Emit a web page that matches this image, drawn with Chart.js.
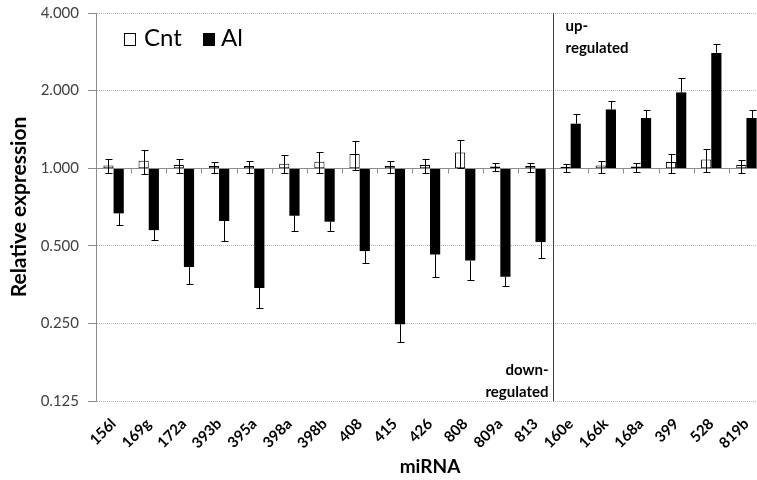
<!DOCTYPE html>
<html><head><meta charset="utf-8">
<script src="https://cdn.jsdelivr.net/npm/chart.js@4"></script>
<style>html,body{margin:0;padding:0;overflow:hidden;background:#fff}
#wrap{width:772px;height:480px;overflow:hidden}</style></head>
<body><div id="wrap"><canvas id="c" width="772" height="480"></canvas></div>
<script>
const categories = ['156l','169g','172a','393b','395a','398a','398b','408','415','426','808','809a','813','160e','166k','168a','399','528','819b'];
const cntValues  = [1.025,1.07,1.03,1.02,1.02,1.04,1.06,1.135,1.02,1.03,1.15,1.015,1.02,1.013,1.025,1.015,1.056,1.08,1.03];
const cntErrHigh = [1.09,1.18,1.09,1.06,1.07,1.13,1.155,1.275,1.07,1.09,1.286,1.045,1.05,1.035,1.07,1.05,1.14,1.19,1.08];
const cntErrLow  = [0.96,0.95,0.96,0.96,0.96,0.96,0.96,0.98,0.96,0.96,1.0,0.975,0.97,0.97,0.96,0.97,0.96,0.97,0.96];
const alValues   = [0.668,0.575,0.414,0.624,0.343,0.654,0.620,0.477,0.248,0.463,0.438,0.379,0.517,1.488,1.69,1.566,1.968,2.80,1.566];
const alErrEnd   = [0.60,0.527,0.357,0.523,0.288,0.572,0.572,0.429,0.212,0.380,0.369,0.348,0.449,1.617,1.83,1.686,2.245,3.02,1.686];
const yTicks = [0.125,0.25,0.5,1,2,4];
const seriesNames = ['Cnt','Al'];
const upLabel = ['up-','regulated'];
const downLabel = ['down-','regulated'];
const dividerAfter = 12;

const FONT = 'Lato, "Open Sans", sans-serif';

const overlay = {
  id:'overlay',
  afterDatasetsDraw(chart){
    const ctx = chart.ctx, x = chart.scales.x, y = chart.scales.y, ca = chart.chartArea;
    ctx.save();
    const n = categories.length;
    const step = x.getPixelForValue(1) - x.getPixelForValue(0);
    // baseline at 1.0 with ticks
    const y1 = Math.round(y.getPixelForValue(1)) + 0.5;
    ctx.strokeStyle = '#8c8c8c'; ctx.lineWidth = 1;
    ctx.beginPath(); ctx.moveTo(ca.left, y1); ctx.lineTo(ca.right, y1); ctx.stroke();
    for (let i = 0; i <= n; i++) {
      const px = Math.round(x.getPixelForValue(0) - step / 2 + i * step) + 0.5;
      ctx.beginPath(); ctx.moveTo(px, y1); ctx.lineTo(px, y1 + 5); ctx.stroke();
    }
    // error bars
    ctx.strokeStyle = '#000'; ctx.lineWidth = 1;
    const m0 = chart.getDatasetMeta(0), m1 = chart.getDatasetMeta(1);
    const cap = 3;
    for (let i = 0; i < n; i++) {
      const cx = Math.round(m0.data[i].x) + 0.5;
      const hi = Math.round(y.getPixelForValue(cntErrHigh[i])) + 0.5;
      const lo = Math.round(y.getPixelForValue(cntErrLow[i])) + 0.5;
      ctx.beginPath();
      ctx.moveTo(cx, hi); ctx.lineTo(cx, lo);
      ctx.moveTo(cx - cap, hi); ctx.lineTo(cx + cap + 1, hi);
      ctx.moveTo(cx - cap, lo); ctx.lineTo(cx + cap + 1, lo);
      ctx.stroke();
      const ax = Math.round(m1.data[i].x) + 0.5;
      const a0 = y.getPixelForValue(alValues[i]);
      const ae = Math.round(y.getPixelForValue(alErrEnd[i])) + 0.5;
      ctx.beginPath();
      ctx.moveTo(ax, a0); ctx.lineTo(ax, ae);
      ctx.moveTo(ax - cap, ae); ctx.lineTo(ax + cap + 1, ae);
      ctx.stroke();
    }
    // divider
    const dx = Math.round((x.getPixelForValue(dividerAfter) + x.getPixelForValue(dividerAfter + 1)) / 2) + 0.5;
    ctx.strokeStyle = '#404040';
    ctx.beginPath(); ctx.moveTo(dx, ca.top); ctx.lineTo(dx, ca.bottom); ctx.stroke();
    // annotations
    ctx.fillStyle = '#000';
    ctx.font = 'bold 15px ' + FONT;
    ctx.textBaseline = 'alphabetic';
    ctx.textAlign = 'left';
    ctx.fillText(upLabel[0], dx + 12, 31);
    ctx.fillText(upLabel[1], dx + 12, 53);
    ctx.textAlign = 'right';
    ctx.fillText(downLabel[0], dx - 5, 375);
    ctx.fillText(downLabel[1], dx - 5, 397);
    // legend
    ctx.textAlign = 'left';
    ctx.font = '24px ' + FONT;
    ctx.fillStyle = '#fff'; ctx.strokeStyle = '#000';
    ctx.fillRect(124.5, 33.5, 11, 12); ctx.strokeRect(124.5, 33.5, 11, 12);
    ctx.fillStyle = '#000';
    ctx.fillText(seriesNames[0], 144, 46);
    ctx.fillRect(203, 33, 12, 13);
    ctx.fillText(seriesNames[1], 221, 46);
    ctx.restore();
  }
};

new Chart(document.getElementById('c'), {
  type: 'bar',
  data: {
    labels: categories,
    datasets: [
      { label: seriesNames[0], data: cntValues.map(v => [1, v]), backgroundColor: '#fff', borderColor: '#000', borderWidth: 1, borderSkipped: false },
      { label: seriesNames[1], data: alValues.map(v => [1, v]), backgroundColor: '#000', borderColor: '#000', borderWidth: 0 }
    ]
  },
  options: {
    responsive: false, animation: false, devicePixelRatio: 1,
    layout: { padding: { top: 13, right: 8, left: 0, bottom: 0 } },
    datasets: { bar: { categoryPercentage: 0.58, barPercentage: 1.0 } },
    plugins: { legend: { display: false }, tooltip: { enabled: false } },
    scales: {
      x: {
        type: 'category',
        grid: { display: false },
        border: { display: false },
        ticks: { color: '#000', font: { family: FONT, size: 15, weight: 'bold' }, minRotation: 45, maxRotation: 45, padding: 6, autoSkip: false },
        title: { display: true, text: 'miRNA', color: '#000', font: { family: FONT, size: 19, weight: 'bold' }, padding: { top: 0, bottom: 2 } },
        afterFit(s) { s.height = 79; s.paddingLeft = 0; s.paddingRight = 0; }
      },
      y: {
        type: 'logarithmic', min: 0.125, max: 4,
        afterBuildTicks(s) { s.ticks = yTicks.map(v => ({ value: v })); },
        ticks: { color: '#404040', font: { family: FONT, size: 15 }, padding: 9, callback: v => Number(v).toFixed(3) },
        grid: { color: '#b5b5b5', lineWidth: 1, tickLength: 8, tickColor: '#8c8c8c' },
        border: { display: true, color: '#8c8c8c', width: 1, dash: [1, 1] },
        title: { display: true, text: 'Relative expression', color: '#000', font: { family: FONT, size: 21, weight: 'bold' }, padding: { top: 7, bottom: 0 } },
        afterFit(s) { s.width = 96; s.paddingTop = 0; s.paddingBottom = 0; }
      }
    }
  },
  plugins: [overlay]
});
</script>
</body></html>
